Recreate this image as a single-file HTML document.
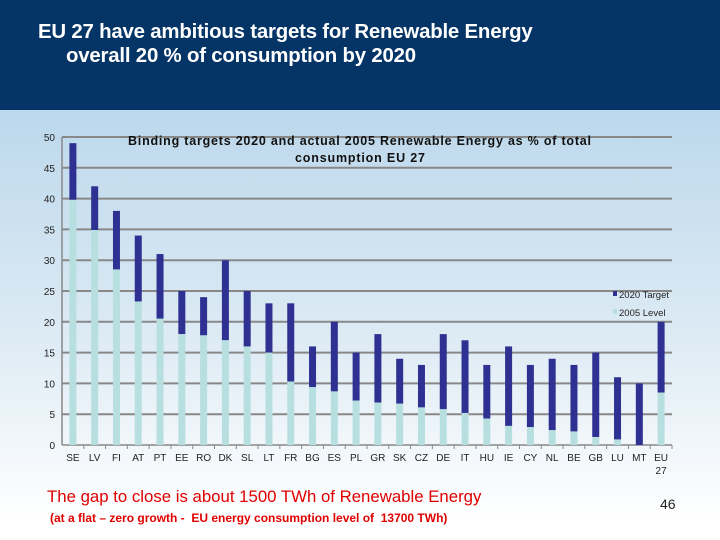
<!DOCTYPE html>
<html><head><meta charset="utf-8"><style>
html,body{margin:0;padding:0}
body{width:720px;height:540px;position:relative;overflow:hidden;font-family:"Liberation Sans",sans-serif;background:linear-gradient(#bcd8ec 110px,#dceaf4 330px,#ffffff 520px)}
#hdr{position:absolute;left:0;top:0;width:720px;height:110px;background:#053466}
#hdr div{position:absolute;color:#fff;font-size:20.4px;font-weight:bold;letter-spacing:-0.2px}
</style></head><body>
<div id="hdr">
<div style="left:38px;top:21px">EU 27 have ambitious targets for Renewable Energy</div>
<div style="left:66px;top:45px">overall 20 % of consumption by 2020</div>
</div>
<svg id="chart" width="720" height="540" style="position:absolute;left:0;top:0"></svg>
<div style="position:absolute;left:47px;top:487px;color:#e00000;font-size:16.8px">The gap to close is about 1500 TWh of Renewable Energy</div>
<div style="position:absolute;left:50px;top:511px;color:#e00000;font-size:12px;font-weight:bold">(at a flat – zero growth -&nbsp; EU energy consumption level of&nbsp; 13700 TWh)</div>
<div style="position:absolute;left:660px;top:496px;color:#222;font-size:14px">46</div>
<script>
const categories=["SE","LV","FI","AT","PT","EE","RO","DK","SL","LT","FR","BG","ES","PL","GR","SK","CZ","DE","IT","HU","IE","CY","NL","BE","GB","LU","MT","EU 27"];
const level2005=[39.8,34.9,28.5,23.3,20.5,18,17.8,17,16,15,10.3,9.4,8.7,7.2,6.9,6.7,6.1,5.8,5.2,4.3,3.1,2.9,2.4,2.2,1.3,0.9,0,8.5];
const target2020=[49,42,38,34,31,25,24,30,25,23,23,16,20,15,18,14,13,18,17,13,16,13,14,13,15,11,10,20];
const yTicks=[0,5,10,15,20,25,30,35,40,45,50];
const NS="http://www.w3.org/2000/svg";
const svg=document.getElementById('chart');
const x0=62,x1=672,y0=445,y50=137;
const y=v=>y0-(v/50)*(y0-y50);
const step=(x1-x0)/categories.length;
const cx=i=>x0+step*(i+0.5);
function el(t,a){const e=document.createElementNS(NS,t);for(const k in a)e.setAttribute(k,a[k]);svg.appendChild(e);return e;}
yTicks.forEach(v=>{
 const g=el('line',{x1:x0,x2:x1,y1:y(v),y2:y(v),stroke:'#888',"stroke-width":v===0?1.5:2});
 
 
 const t=el('text',{x:55,y:y(v)+4,"text-anchor":"end","font-size":10,fill:'#222'});
 t.textContent=v;
 
 
});
el('line',{x1:x0,x2:x0,y1:y50,y2:y0,stroke:'#888',"stroke-width":1.5});
categories.forEach((c,i)=>{
 const tk=el('line',{x1:x0+step*(i+1),x2:x0+step*(i+1),y1:y0,y2:y0+4,stroke:'#888'});
 
 
 const b1=el('rect',{x:cx(i)-3.5,y:y(target2020[i]),width:7,height:y(level2005[i])-y(target2020[i]),fill:'#2e3192'});
 
 
 const b2=el('rect',{x:cx(i)-3.5,y:y(level2005[i]),width:7,height:y0-y(level2005[i]),fill:'#b7dfe0'});
 
 
 const parts=c.split(' ');
 parts.forEach((p,j)=>{
  const t=el('text',{x:cx(i),y:461+j*13,"text-anchor":"middle","font-size":10,fill:'#222'});
  t.textContent=p;
  
  
 });
});
const t1=el('text',{x:128,y:145,"font-size":12.5,"font-weight":"bold",fill:'#111',textLength:463,lengthAdjust:'spacing'});
t1.textContent='Binding targets 2020 and actual 2005 Renewable Energy as  % of total';


const t2=el('text',{x:360,y:162,"text-anchor":"middle","font-size":12.5,"font-weight":"bold",fill:'#111',textLength:130,lengthAdjust:'spacing'});
t2.textContent='consumption EU 27';


const l1=el('rect',{x:613,y:291,width:4,height:5,fill:'#2e3192'});


const lt1=el('text',{x:619,y:298,"font-size":9.5,fill:'#222'});lt1.textContent='2020 Target';


const l2=el('rect',{x:613,y:309,width:4,height:5,fill:'#b7dfe0'});


const lt2=el('text',{x:619,y:316,"font-size":9.5,fill:'#222'});lt2.textContent='2005 Level';


</script>
</body></html>
